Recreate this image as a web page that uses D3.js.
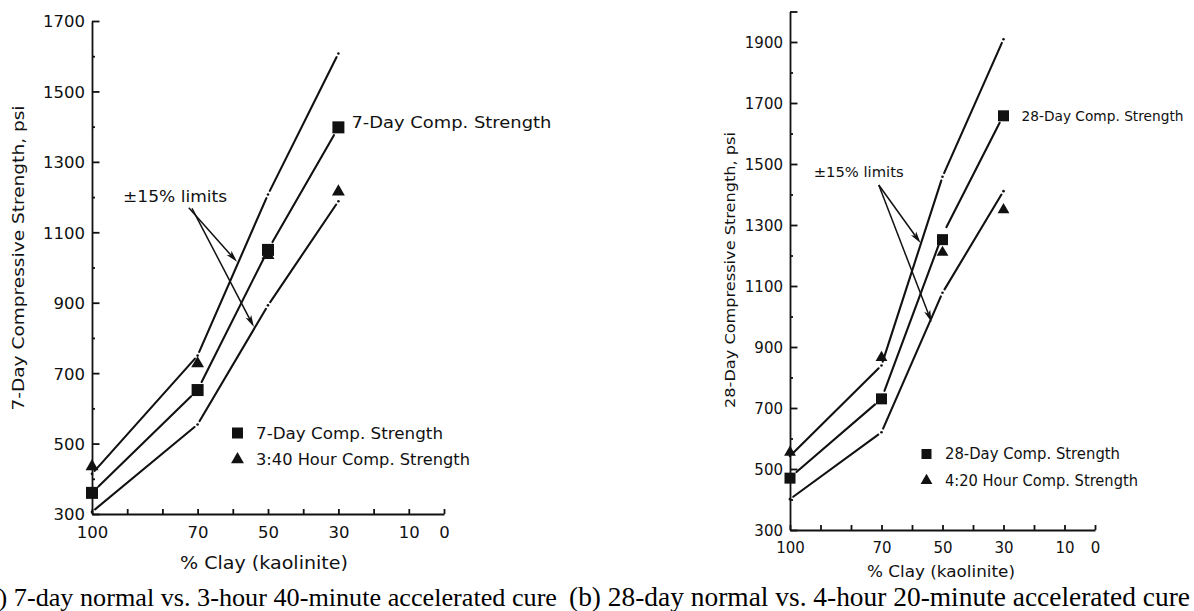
<!DOCTYPE html>
<html><head><meta charset="utf-8">
<script src="https://cdn.jsdelivr.net/npm/d3@7"></script>
<style>body{margin:0;background:#fff}svg{display:block}</style>
</head><body>
<svg id="c" width="1194" height="611"></svg>
<script>
// ---------- data ----------
const clay = [100, 70, 50, 30];
const xTicks = [100, 90, 80, 70, 60, 50, 40, 30, 20, 10, 0];
const xTickLabels = [100, 70, 50, 30, 10, 0];
const limitFactors = [0.85, 1, 1.15];

// panel (a)
const strength7Day = [360, 652, 1050, 1398];
const strength340 = [435, 727, 1035, 1215];
const limitBase7 = [360, 652, 1050, 1398];
const yTicksA = [300, 500, 700, 900, 1100, 1300, 1500, 1700];
const yMinorA = [400, 600, 800, 1000, 1200, 1400, 1600];
const yLabelsA = [300, 500, 700, 900, 1100, 1300, 1500, 1700];

// panel (b)
const strength28Day = [470, 730, 1252, 1658];
const strength420 = [555, 865, 1210, 1350];
const limitBase28 = [472, 730, 1268, 1660];
const yTicksB = [300, 500, 700, 900, 1100, 1300, 1500, 1700, 1900, 2000];
const yMinorB = [400, 600, 800, 1000, 1200, 1400, 1600, 1800];
const yLabelsB = [300, 500, 700, 900, 1100, 1300, 1500, 1700, 1900];

// ---------- layout ----------
const FONT = "'DejaVu Sans', sans-serif";
const SERIF = "'Liberation Serif', 'Times New Roman', serif";
const svg = d3.select('#c');

const panels = [
  {
    xr: [92, 444], yd: [300, 1700], yr: [514, 21],
    yTicks: yTicksA, yMinor: yMinorA, yLabels: yLabelsA,
    squares: strength7Day, triangles: strength340, base: limitBase7,
    tickFont: 16.5, mark: 12,
    yTitle: '7-Day Compressive Strength, psi', yTitlePos: [18, 258], yTitleW: 305, yTitleSize: 16,
    xTitle: '% Clay  (kaolinite)', xTitlePos: [264, 563], xTitleW: 168, xTitleSize: 17,
    pointLabel: '7-Day Comp. Strength', pointLabelDx: 13, pointLabelDy: -5, pointLabelW: 200, pointLabelSize: 16.5,
    legend: [{t: '7-Day Comp. Strength', w: 187}, {t: '3:40 Hour Comp. Strength', w: 214}],
    legendPos: [237.5, 433], legendGap: 26.5, legendTextX: 256, legendSize: 16,
    annot: {text: '\u00b115% limits', at: [76.4, 1200], w: 104, size: 15.5,
      arrows: [[[72.5, 1170], [58.8, 1016]], [[71.6, 1168], [54, 831]]]},
    caption: '(a) 7-day normal vs. 3-hour 40-minute accelerated cure', capX: 557, capAnchor: 'end', capW: null, capSize: 26.2
  },
  {
    xr: [790, 1095], yd: [300, 2000], yr: [530, 11.5],
    yTicks: yTicksB, yMinor: yMinorB, yLabels: yLabelsB,
    squares: strength28Day, triangles: strength420, base: limitBase28,
    tickFont: 15, mark: 11,
    yTitle: '28-Day Compressive Strength, psi', yTitlePos: [730, 270], yTitleW: 276, yTitleSize: 14.5,
    xTitle: '% Clay  (kaolinite)', xTitlePos: [941, 571.5], xTitleW: 148, xTitleSize: 15,
    pointLabel: '28-Day Comp. Strength', pointLabelDx: 18, pointLabelDy: 0, pointLabelW: 162, pointLabelSize: 14,
    legend: [{t: '28-Day Comp. Strength', w: 175}, {t: '4:20 Hour Comp. Strength', w: 193}],
    legendPos: [926.5, 454], legendGap: 26.5, legendTextX: 945, legendSize: 15,
    annot: {text: '\u00b115% limits', at: [77.5, 1475], w: 90, size: 14,
      arrows: [[[70.9, 1431], [57.2, 1241]], [[70.9, 1431], [53.6, 982]]]},
    caption: '(b) 28-day normal vs. 4-hour 20-minute accelerated cure', capX: 569, capAnchor: 'start', capW: 621, capSize: 26.5
  }
];

function txt(g, str, x, y, size, w, anchor, fam) {
  const t = g.append('text').attr('x', x).attr('y', y)
    .attr('font-family', fam || FONT).attr('font-size', size)
    .attr('dominant-baseline', 'central')
    .attr('text-anchor', anchor || 'start').attr('fill', '#111').text(str);
  if (w) t.attr('textLength', w).attr('lengthAdjust', 'spacingAndGlyphs');
  return t;
}

function brokenLine(g, pts, gap, dots) {
  for (let i = 0; i < pts.length - 1; i++) {
    const [x0, y0] = pts[i], [x1, y1] = pts[i + 1];
    const len = Math.hypot(x1 - x0, y1 - y0), ux = (x1 - x0) / len, uy = (y1 - y0) / len;
    g.append('line')
      .attr('x1', x0 + ux * gap).attr('y1', y0 + uy * gap)
      .attr('x2', x1 - ux * gap).attr('y2', y1 - uy * gap)
      .attr('stroke', '#111').attr('stroke-width', 2.1).attr('stroke-linecap', 'round');
  }
  if (dots) pts.forEach(p => g.append('circle').attr('cx', p[0]).attr('cy', p[1]).attr('r', 1.3).attr('fill', '#111'));
}

function arrow(g, p0, p1) {
  const len = Math.hypot(p1[0] - p0[0], p1[1] - p0[1]);
  const ux = (p1[0] - p0[0]) / len, uy = (p1[1] - p0[1]) / len;
  const hl = 12, hw = 3.2;
  const bx = p1[0] - ux * hl, by = p1[1] - uy * hl;
  g.append('line').attr('x1', p0[0]).attr('y1', p0[1]).attr('x2', bx + ux * 3).attr('y2', by + uy * 3)
    .attr('stroke', '#111').attr('stroke-width', 1.5);
  g.append('path').attr('d', `M${p1[0]},${p1[1]}L${bx - uy * hw},${by + ux * hw}L${bx + ux * 3},${by + uy * 3}L${bx + uy * hw},${by - ux * hw}Z`)
    .attr('fill', '#111');
}

panels.forEach(cfg => {
  const g = svg.append('g');
  const x = d3.scaleLinear().domain([100, 0]).range(cfg.xr);
  const y = d3.scaleLinear().domain(cfg.yd).range(cfg.yr);

  // y axis (ticks pointing inward)
  const ya = g.append('g').attr('transform', `translate(${cfg.xr[0]},0)`)
    .call(d3.axisLeft(y).tickValues(cfg.yTicks).tickSizeInner(-7.5).tickSizeOuter(0).tickPadding(7)
      .tickFormat(d => cfg.yLabels.includes(d) ? d : ''));
  const ym = g.append('g').attr('transform', `translate(${cfg.xr[0]},0)`)
    .call(d3.axisLeft(y).tickValues(cfg.yMinor).tickSizeInner(-3).tickSizeOuter(0).tickFormat(''));
  ym.select('.domain').remove();
  // x axis
  const xa = g.append('g').attr('transform', `translate(0,${cfg.yr[0]})`)
    .call(d3.axisBottom(x).tickValues(xTicks).tickSizeInner(-5).tickSizeOuter(0).tickPadding(12)
      .tickFormat(d => xTickLabels.includes(d) ? d : ''));
  [ya, ym, xa].forEach(a => {
    a.attr('font-family', FONT).attr('font-size', cfg.tickFont);
    a.selectAll('path,line').attr('stroke', '#111').attr('stroke-width', 1.8);
    a.selectAll('text').attr('fill', '#111');
  });
  ya.selectAll('text').attr('dy', '0.36em');

  // limit lines and central line
  limitFactors.forEach(f => {
    const pts = clay.map((c, i) => [x(c), y(cfg.base[i] * f)]);
    if (f === 1) brokenLine(g, pts, cfg.mark * 0.5 + 3, false);
    else brokenLine(g, pts, 4, true);
  });

  // markers
  const tri = d3.symbol(d3.symbolTriangle, cfg.mark * cfg.mark * 0.5);
  cfg.triangles.forEach((v, i) => g.append('path').attr('d', tri()).attr('fill', '#111')
    .attr('transform', `translate(${x(clay[i])},${y(v)})`));
  cfg.squares.forEach((v, i) => g.append('rect')
    .attr('x', x(clay[i]) - cfg.mark / 2).attr('y', y(v) - cfg.mark / 2)
    .attr('width', cfg.mark).attr('height', cfg.mark).attr('fill', '#111'));

  // label at last square
  const li = clay.length - 1;
  txt(g, cfg.pointLabel, x(clay[li]) + cfg.pointLabelDx, y(cfg.squares[li]) + cfg.pointLabelDy,
    cfg.pointLabelSize, cfg.pointLabelW);

  // annotation
  const a = cfg.annot;
  txt(g, a.text, x(a.at[0]), y(a.at[1]), a.size, a.w, 'middle');
  a.arrows.forEach(ar => arrow(g, [x(ar[0][0]), y(ar[0][1])], [x(ar[1][0]), y(ar[1][1])]));

  // legend
  const [lx, ly] = cfg.legendPos;
  g.append('rect').attr('x', lx - cfg.mark / 2 + 0.5).attr('y', ly - cfg.mark / 2 + 0.5)
    .attr('width', cfg.mark - 1).attr('height', cfg.mark - 1).attr('fill', '#111');
  g.append('path').attr('d', tri()).attr('fill', '#111')
    .attr('transform', `translate(${lx},${ly + cfg.legendGap})`);
  cfg.legend.forEach((L, i) => txt(g, L.t, cfg.legendTextX, ly + i * cfg.legendGap, cfg.legendSize, L.w));

  // axis titles
  txt(g, cfg.yTitle, 0, 0, cfg.yTitleSize, cfg.yTitleW, 'middle')
    .attr('transform', `translate(${cfg.yTitlePos[0]},${cfg.yTitlePos[1]}) rotate(-90)`);
  txt(g, cfg.xTitle, cfg.xTitlePos[0], cfg.xTitlePos[1], cfg.xTitleSize, cfg.xTitleW, 'middle');

  // caption
  txt(g, cfg.caption, cfg.capX, 597, cfg.capSize, cfg.capW, cfg.capAnchor, SERIF).attr('fill', '#000');
});
</script>
</body></html>
